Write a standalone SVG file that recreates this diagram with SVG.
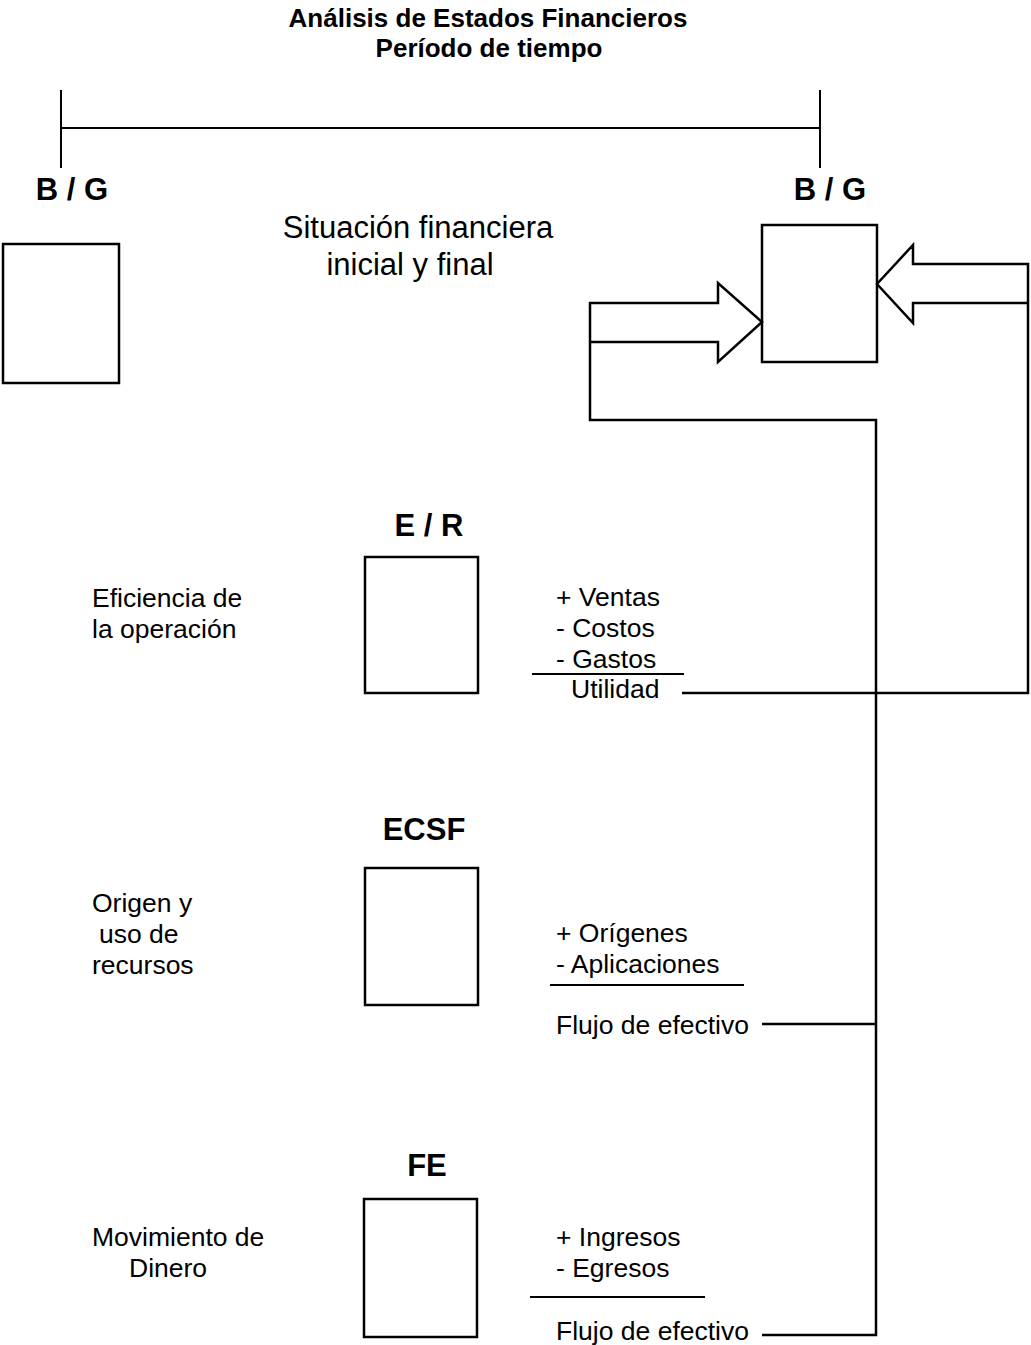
<svg xmlns="http://www.w3.org/2000/svg" width="1031" height="1345" viewBox="0 0 1031 1345">
  <style>
    text { font-family: "Liberation Sans", Arial, sans-serif; fill: #000; }
    .title { font-size: 26px; font-weight: bold; text-anchor: middle; }
    .head { font-size: 31px; font-weight: bold; text-anchor: middle; }
    .sub { font-size: 31px; text-anchor: middle; }
    .body { font-size: 26.5px; }
    .box { fill: #fff; stroke: #000; stroke-width: 2.5; }
    .line { fill: none; stroke: #000; stroke-width: 2.5; stroke-linejoin: miter; }
    .thin { fill: none; stroke: #000; stroke-width: 2; }
  </style>

  <rect width="1031" height="1345" fill="#fff"/>

  <!-- Title -->
  <g id="title">
    <text class="title" x="488" y="27">Análisis de Estados Financieros</text>
    <text class="title" x="489" y="57">Período de tiempo</text>
  </g>

  <!-- Time line between the two balance sheets -->
  <g id="timeline">
    <path class="thin" d="M61,90 V168 M820,90 V168 M61,128 H820"/>
  </g>

  <g id="situacion">
    <text class="sub" x="418" y="238">Situación financiera</text>
    <text class="sub" x="410" y="275">inicial y final</text>
  </g>

  <!-- Initial balance sheet -->
  <g id="bg-inicial">
    <text class="head" x="72" y="200">B / G</text>
    <rect class="box" x="3" y="244" width="116" height="139"/>
  </g>

  <!-- Final balance sheet -->
  <g id="bg-final">
    <text class="head" x="830" y="200">B / G</text>
    <rect class="box" x="762" y="225" width="115" height="137"/>
  </g>

  <!-- Income statement -->
  <g id="er">
    <text class="head" x="429" y="536">E / R</text>
    <rect class="box" x="365" y="557" width="113" height="136"/>
    <text class="body" x="92" y="607">Eficiencia de</text>
    <text class="body" x="92" y="638">la operación</text>
    <text class="body" x="556" y="606">+ Ventas</text>
    <text class="body" x="556" y="637">- Costos</text>
    <text class="body" x="556" y="668">- Gastos</text>
    <text class="body" x="571" y="698">Utilidad</text>
    <path class="thin" d="M532,674 H684"/>
  </g>

  <!-- Statement of changes in financial position -->
  <g id="ecsf">
    <text class="head" x="424" y="840">ECSF</text>
    <rect class="box" x="365" y="868" width="113" height="137"/>
    <text class="body" x="92" y="912">Origen y</text>
    <text class="body" x="99" y="943">uso de</text>
    <text class="body" x="92" y="974">recursos</text>
    <text class="body" x="556" y="942">+ Orígenes</text>
    <text class="body" x="556" y="973">- Aplicaciones</text>
    <text class="body" x="556" y="1034">Flujo de efectivo</text>
    <path class="thin" d="M550,985 H744"/>
  </g>

  <!-- Cash flow statement -->
  <g id="fe">
    <text class="head" x="427" y="1176">FE</text>
    <rect class="box" x="364" y="1199" width="113" height="138"/>
    <text class="body" x="92" y="1246">Movimiento de</text>
    <text class="body" x="129" y="1277">Dinero</text>
    <text class="body" x="556" y="1246">+ Ingresos</text>
    <text class="body" x="556" y="1277">- Egresos</text>
    <text class="body" x="556" y="1340">Flujo de efectivo</text>
    <path class="thin" d="M530,1297 H705"/>
  </g>

  <!-- Connectors -->
  <g id="connectors">
    <!-- cash flows feed the left block arrow -->
    <path class="line" d="M762,1335 H876 V420 H590 V303 H718 V283 L762,322 L718,362 V342 H590"/>
    <path class="line" d="M762,1024 H876"/>
    <!-- profit feeds the right block arrow -->
    <path class="line" d="M682,693 H1028 V264 H913 V245 L877,284 L913,323 V303 H1028"/>
  </g>
</svg>
